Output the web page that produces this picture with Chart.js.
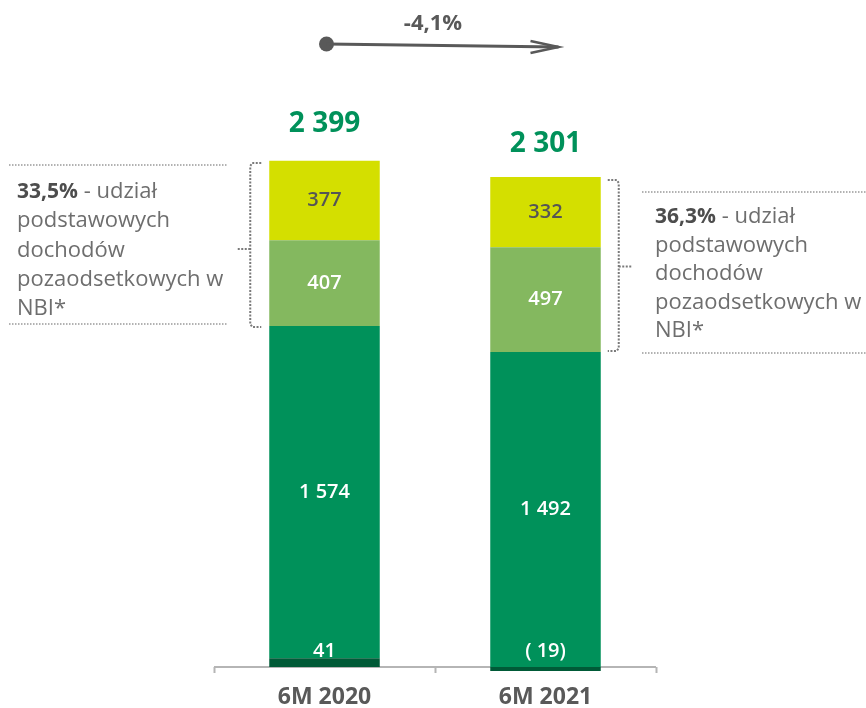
<!DOCTYPE html>
<html>
<head>
<meta charset="utf-8">
<script src="https://cdn.jsdelivr.net/npm/chart.js@4.4.1/dist/chart.umd.min.js"></script>
<style>
  html, body { margin: 0; padding: 0; background: #fff; }
  #wrap { width: 866px; height: 708px; }
</style>
</head>
<body>
<div id="wrap"><canvas id="chart" width="866" height="708"></canvas></div>
<script>
const periods = ['6M 2020', '6M 2021']
const otherIncome = [41, -19]
const netInterest = [1574, 1492]
const feesIncome = [407, 497]
const otherCore = [377, 332]
const totals = [2399, 2301]
const coreShare = ['33,5%', '36,3%']
const shareText = [' - udział', 'podstawowych', 'dochodów', 'pozaodsetkowych w', 'NBI*']

const GRAY = '#595959'
const FONT = "'Open Sans', 'DejaVu Sans', sans-serif"

// thousands with a space, negatives in brackets
const fmt = v => v < 0 ? '( ' + fmt(-v) + ')' : String(v).replace(/\B(?=(\d{3})+(?!\d))/g, ' ')

const change = ((totals[1] / totals[0] - 1) * 100).toFixed(1).replace('.', ',') + '%'

function dotted(ctx, pts) {
  ctx.beginPath()
  ctx.moveTo(pts[0][0], pts[0][1])
  for (let i = 1; i < pts.length; i++) ctx.lineTo(pts[i][0], pts[i][1])
  ctx.stroke()
}

const extras = {
  id: 'extras',
  beforeDatasetsDraw(chart) {
    const ctx = chart.ctx
    const x = chart.scales.x, y = chart.scales.y
    const y0 = y.getPixelForValue(0)
    ctx.save()
    ctx.strokeStyle = '#b5b5b5'
    ctx.lineWidth = 2
    ctx.beginPath()
    ctx.moveTo(x.left, y0)
    ctx.lineTo(x.right, y0)
    const step = (x.right - x.left) / periods.length
    for (let i = 0; i <= periods.length; i++) {
      const tx = Math.round(x.left + i * step) + 0.5
      ctx.moveTo(tx, y0)
      ctx.lineTo(tx, y0 + 6)
    }
    ctx.stroke()
    ctx.restore()
  },
  afterDatasetsDraw(chart) {
    const ctx = chart.ctx
    const y = chart.scales.y
    const bars = chart.getDatasetMeta(0).data
    ctx.save()
    ctx.textAlign = 'center'
    ctx.textBaseline = 'middle'

    // values inside the segments
    chart.data.datasets.forEach((ds, di) => {
      chart.getDatasetMeta(di).data.forEach((bar, i) => {
        const v = ds.data[i]
        let ly = (bar.y + bar.base) / 2
        if (di === 0) ly = y.getPixelForValue(0) - 16
        ctx.fillStyle = ds.labelColor
        ctx.font = '600 20px ' + FONT
        ctx.fillText(fmt(v), bar.x, ly)
      })
    })

    // totals above the stacks
    ctx.fillStyle = '#00915a'
    ctx.font = 'bold 28px ' + FONT
    totals.forEach((t, i) => {
      ctx.fillText(fmt(t), bars[i].x, y.getPixelForValue(t) - 37)
    })

    // change arrow
    const ax1 = bars[0].x + 2, ax2 = bars[1].x + 13
    ctx.fillStyle = GRAY
    ctx.strokeStyle = GRAY
    ctx.lineWidth = 3
    ctx.beginPath()
    ctx.arc(ax1, 44, 7.5, 0, Math.PI * 2)
    ctx.fill()
    ctx.beginPath()
    ctx.moveTo(ax1, 44)
    ctx.lineTo(ax2, 47)
    ctx.stroke()
    ctx.lineWidth = 2.5
    ctx.beginPath()
    ctx.moveTo(ax2 - 28, 41)
    ctx.lineTo(ax2, 47)
    ctx.lineTo(ax2 - 28, 53)
    ctx.stroke()
    ctx.font = 'bold 22px ' + FONT
    ctx.fillText(change, (bars[0].x + bars[1].x) / 2 - 2, 24)

    // share of core non-interest income, with brackets
    const blocks = [
      { top: 163, bot: 327, bx: bars[0].x - bars[0].width / 2 - 19, dir: 1,
        tx: 17, base: 198, step: 29.3, line: [9, 228, 165, 324] },
      { top: 180, bot: 351, bx: bars[1].x + bars[1].width / 2 + 18, dir: -1,
        tx: 655, base: 223, step: 28.6, line: [642, 866, 192, 353] }
    ]
    ctx.strokeStyle = '#7a7a7a'
    ctx.lineWidth = 2
    ctx.setLineDash([2, 1.5])
    blocks.forEach((b, i) => {
      const mid = (b.top + b.bot) / 2 + (i === 0 ? 4 : 1)
      const d = b.dir
      dotted(ctx, [[b.bx + 11 * d, b.top], [b.bx + 2 * d, b.top], [b.bx, b.top + 3], [b.bx, b.bot - 3], [b.bx + 2 * d, b.bot], [b.bx + 11 * d, b.bot]])
      dotted(ctx, [[b.bx, mid], [b.bx - 13 * d, mid]])
    })
    ctx.strokeStyle = '#999999'
    ctx.lineWidth = 1.5
    ctx.setLineDash([1.5, 1.5])
    blocks.forEach(b => {
      dotted(ctx, [[b.line[0], b.line[2]], [b.line[1], b.line[2]]])
      dotted(ctx, [[b.line[0], b.line[3]], [b.line[1], b.line[3]]])
    })
    ctx.setLineDash([])

    ctx.textAlign = 'left'
    ctx.textBaseline = 'alphabetic'
    blocks.forEach((b, i) => {
      ctx.fillStyle = '#4d4d4d'
      ctx.font = 'bold 21px ' + FONT
      ctx.fillText(coreShare[i], b.tx, b.base)
      const w = ctx.measureText(coreShare[i]).width
      ctx.fillStyle = '#6e6e6e'
      ctx.font = '22px ' + FONT
      ctx.fillText(shareText[0], b.tx + w, b.base)
      for (let k = 1; k < shareText.length; k++) {
        ctx.fillText(shareText[k], b.tx, b.base + k * b.step)
      }
    })
    ctx.restore()
  }
}

const ctx = document.getElementById('chart').getContext('2d')
const chart = new Chart(ctx, {
  type: 'bar',
  data: {
    labels: periods,
    datasets: [
      { label: 'other', data: otherIncome, backgroundColor: '#005a37', labelColor: '#ffffff' },
      { label: 'net interest', data: netInterest, backgroundColor: '#00915a', labelColor: '#ffffff' },
      { label: 'fees', data: feesIncome, backgroundColor: '#84b85f', labelColor: '#ffffff' },
      { label: 'other core', data: otherCore, backgroundColor: '#d4df00', labelColor: '#555555' }
    ]
  },
  options: {
    responsive: false,
    animation: false,
    devicePixelRatio: 1,
    layout: { padding: { left: 214, right: 210, top: 76, bottom: -3 } },
    plugins: { legend: { display: false }, tooltip: { enabled: false } },
    datasets: { bar: { barPercentage: 0.5, categoryPercentage: 1, borderWidth: 0 } },
    scales: {
      x: {
        stacked: true,
        grid: { display: false },
        border: { display: false },
        ticks: { color: GRAY, padding: 0, font: { family: FONT, size: 23, weight: 'bold' } }
      },
      y: { stacked: true, display: false, min: -40, max: 2800 }
    }
  },
  plugins: [extras]
})
</script>
</body>
</html>
